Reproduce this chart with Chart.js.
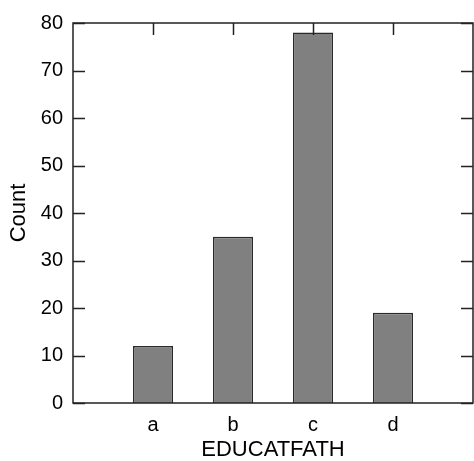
<!DOCTYPE html>
<html lang="en">
<head>
    <meta charset="UTF-8">
    <title>EDUCATFATH</title>
    <script src="https://cdn.jsdelivr.net/npm/chart.js"></script>
    <style>
        body { margin: 0; background: #fff; }
        #chart { display: block; }
    </style>
</head>
<body>
    <canvas id="chart" width="474" height="461"></canvas>

    <script>
        // values
        const categories = ['a', 'b', 'c', 'd'];
        const counts = [12, 35, 78, 19];
        const yTicks = [0, 10, 20, 30, 40, 50, 60, 70, 80];

        // one empty slot each side so the categories sit like the original
        const labels = [''].concat(categories, ['']);
        const values = [null].concat(counts, [null]);

        const FONT = 'Liberation Sans, Arial, Helvetica, sans-serif';

        // box round the plot plus inward tick marks
        const frame = {
            id: 'frame',
            afterDatasetsDraw(chart) {
                const { ctx, chartArea: a, scales } = chart;
                const len = 12;
                ctx.save();
                ctx.strokeStyle = '#222';
                ctx.lineWidth = 1.5;
                ctx.strokeRect(a.left, a.top, a.right - a.left, a.bottom - a.top);
                ctx.beginPath();
                yTicks.forEach(v => {
                    const y = Math.round(scales.y.getPixelForValue(v)) + 0.5;
                    ctx.moveTo(a.left, y); ctx.lineTo(a.left + len, y);
                    ctx.moveTo(a.right, y); ctx.lineTo(a.right - len, y);
                });
                categories.forEach((c, i) => {
                    const x = Math.round(scales.x.getPixelForValue(i + 1)) + 0.5;
                    ctx.moveTo(x, a.top); ctx.lineTo(x, a.top + len);
                });
                ctx.stroke();
                ctx.restore();
            }
        };

        new Chart(document.getElementById('chart'), {
            type: 'bar',
            data: {
                labels: labels,
                datasets: [{
                    label: 'Count',
                    data: values,
                    backgroundColor: '#808080',
                    borderColor: '#2a2a2a',
                    borderWidth: 1.5,
                    barPercentage: 0.5,
                    categoryPercentage: 1
                }]
            },
            options: {
                responsive: false,
                animation: false,
                layout: { padding: { top: 23, right: 1, left: 0, bottom: 0 } },
                plugins: {
                    legend: { display: false },
                    tooltip: { enabled: false }
                },
                scales: {
                    x: {
                        offset: false,
                        // tick marks hidden, their length only spaces the labels
                        grid: { display: false, drawTicks: true, tickLength: 10 },
                        border: { display: false },
                        ticks: {
                            color: '#000',
                            padding: 0,
                            maxRotation: 0,
                            autoSkip: false,
                            font: { family: FONT, size: 20 }
                        },
                        title: {
                            display: true,
                            text: 'EDUCATFATH',
                            color: '#000',
                            padding: { top: 0, bottom: -2 },
                            font: { family: FONT, size: 22 }
                        },
                        afterFit(scale) { scale.height = 58; }
                    },
                    y: {
                        min: 0,
                        max: 80,
                        grid: { display: false, drawTicks: false },
                        border: { display: false },
                        ticks: {
                            stepSize: 10,
                            color: '#000',
                            padding: 10,
                            font: { family: FONT, size: 20 }
                        },
                        title: {
                            display: true,
                            text: 'Count',
                            color: '#000',
                            padding: { top: 6, bottom: 0 },
                            font: { family: FONT, size: 22 }
                        },
                        afterFit(scale) { scale.width = 73; }
                    }
                }
            },
            plugins: [frame]
        });
    </script>
</body>
</html>
